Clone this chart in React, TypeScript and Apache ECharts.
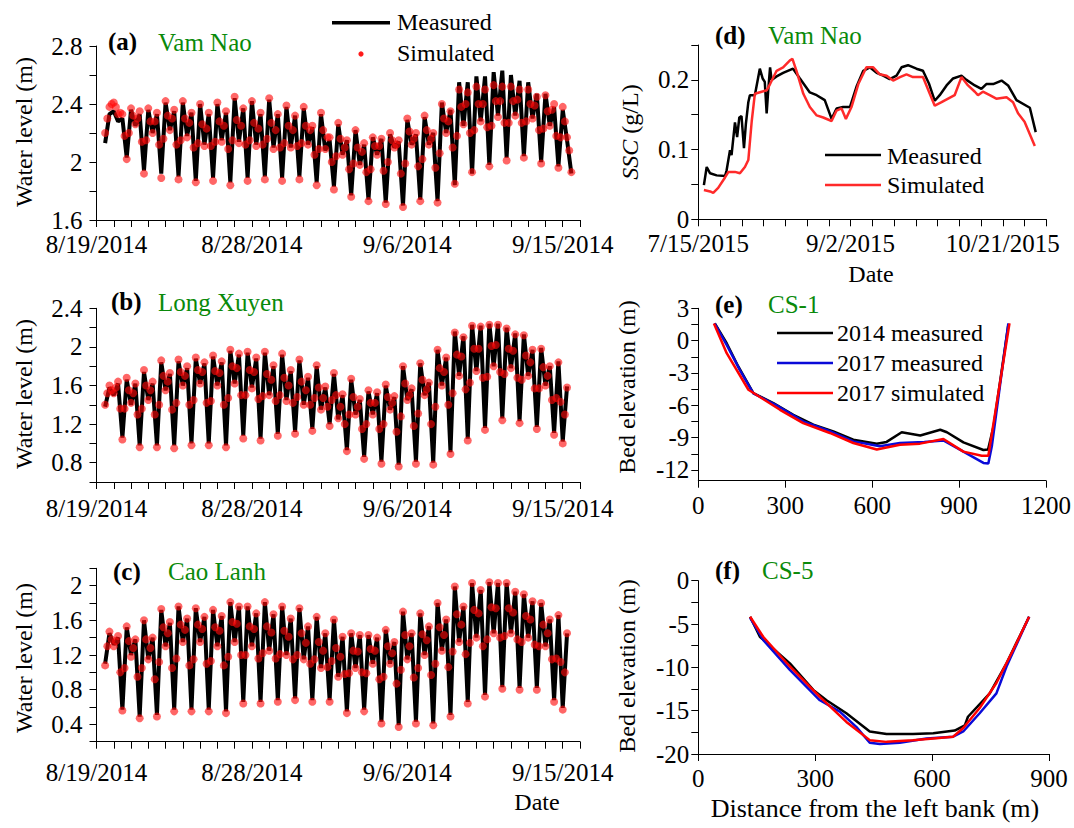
import React, { useEffect, useRef } from 'react';
import * as echarts from 'echarts';

const FONT = '"Liberation Serif", "Times New Roman", Times, serif';
const GREEN = '#0a8a0a';

// ---------- Panels (a)-(c): water level; x = days after 8/19/2014 00:00 ----------
const waterDateLabels: Record<number, string> = { 0: '8/19/2014', 9: '8/28/2014', 18: '9/6/2014', 27: '9/15/2014' };
const measuredStartDay = 0.5;
const measuredStepDays = 0.25; // 6-hourly readings (tidal turning points)
const simulatedStartDay = 0.5;
const simulatedStepDays = 0.125; // 3-hourly model output

// (a) Vam Nao
const vamNaoMeasured = [
  2.13, 2.33, 2.35, 2.28,
  2.30, 2.03, 2.36, 2.25,
  2.33, 1.94, 2.36, 2.20,
  2.33, 1.92, 2.41, 2.22,
  2.35, 1.90, 2.41, 2.18,
  2.34, 1.87, 2.40, 2.12,
  2.33, 1.89, 2.40, 2.15,
  2.34, 1.86, 2.44, 2.14,
  2.37, 1.89, 2.42, 2.12,
  2.33, 1.90, 2.43, 2.10,
  2.33, 1.89, 2.38, 2.10,
  2.32, 1.90, 2.37, 2.12,
  2.24, 1.86, 2.33, 2.08,
  2.15, 1.83, 2.26, 2.05,
  2.15, 1.77, 2.22, 1.98,
  2.12, 1.74, 2.17, 2.05,
  2.16, 1.72, 2.19, 2.10,
  2.14, 1.70, 2.29, 2.12,
  2.19, 1.74, 2.31, 2.12,
  2.20, 1.73, 2.41, 2.20,
  2.36, 1.84, 2.55, 2.25,
  2.55, 1.92, 2.59, 2.28,
  2.59, 1.98, 2.62, 2.32,
  2.63, 2.03, 2.60, 2.32,
  2.56, 2.04, 2.55, 2.30,
  2.47, 2.00, 2.47, 2.25,
  2.38, 1.97, 2.36, 2.15,
  1.92,
];
const vamNaoSimulated = [
  2.20, 2.30, 2.38, 2.40, 2.41, 2.38, 2.33, 2.34,
  2.33, 2.18, 2.02, 2.20, 2.37, 2.32, 2.26, 2.30,
  2.35, 2.14, 1.92, 2.15, 2.37, 2.28, 2.20, 2.28,
  2.34, 2.12, 1.89, 2.16, 2.42, 2.32, 2.22, 2.30,
  2.36, 2.12, 1.88, 2.15, 2.42, 2.30, 2.17, 2.27,
  2.34, 2.10, 1.86, 2.13, 2.40, 2.26, 2.11, 2.23,
  2.34, 2.11, 1.87, 2.14, 2.41, 2.28, 2.14, 2.25,
  2.35, 2.09, 1.84, 2.15, 2.45, 2.29, 2.13, 2.25,
  2.37, 2.12, 1.87, 2.15, 2.42, 2.27, 2.11, 2.23,
  2.34, 2.12, 1.88, 2.16, 2.44, 2.27, 2.09, 2.22,
  2.33, 2.10, 1.87, 2.13, 2.39, 2.25, 2.10, 2.22,
  2.32, 2.11, 1.88, 2.13, 2.38, 2.25, 2.12, 2.22,
  2.25, 2.05, 1.84, 2.09, 2.34, 2.22, 2.09, 2.17,
  2.17, 2.00, 1.81, 2.04, 2.27, 2.16, 2.05, 2.10,
  2.15, 1.95, 1.76, 1.99, 2.22, 2.10, 1.98, 2.07,
  2.13, 1.93, 1.73, 1.95, 2.17, 2.11, 2.05, 2.11,
  2.16, 1.94, 1.71, 2.00, 2.20, 2.15, 2.10, 2.12,
  2.15, 1.92, 1.69, 1.99, 2.30, 2.21, 2.12, 2.16,
  2.20, 1.97, 1.73, 2.02, 2.32, 2.22, 2.12, 2.16,
  2.20, 1.96, 1.72, 2.06, 2.40, 2.30, 2.20, 2.28,
  2.35, 2.10, 1.85, 2.18, 2.50, 2.38, 2.26, 2.40,
  2.48, 2.20, 1.93, 2.22, 2.52, 2.40, 2.28, 2.40,
  2.50, 2.24, 1.97, 2.25, 2.53, 2.42, 2.31, 2.42,
  2.52, 2.27, 2.01, 2.27, 2.52, 2.42, 2.32, 2.43,
  2.50, 2.27, 2.03, 2.28, 2.50, 2.40, 2.30, 2.39,
  2.45, 2.22, 1.99, 2.23, 2.46, 2.35, 2.25, 2.36,
  2.40, 2.18, 1.96, 2.17, 2.38, 2.28, 2.17, 2.08,
  1.93,
];

// (b) Long Xuyen
const longXuyenMeasured = [
  1.38, 1.58, 1.50, 1.62,
  1.06, 1.66, 1.40, 1.62,
  0.98, 1.74, 1.45, 1.62,
  0.98, 1.84, 1.55, 1.72,
  0.98, 1.85, 1.60, 1.78,
  1.00, 1.88, 1.62, 1.83,
  1.00, 1.90, 1.60, 1.84,
  0.98, 1.96, 1.62, 1.92,
  1.08, 1.94, 1.58, 1.88,
  1.05, 1.94, 1.50, 1.80,
  1.10, 1.92, 1.45, 1.75,
  1.12, 1.86, 1.40, 1.68,
  1.15, 1.80, 1.35, 1.58,
  1.20, 1.72, 1.25, 1.50,
  0.93, 1.66, 1.30, 1.45,
  0.86, 1.54, 1.30, 1.52,
  0.81, 1.60, 1.35, 1.48,
  0.78, 1.80, 1.45, 1.56,
  0.81, 1.83, 1.50, 1.63,
  0.80, 1.97, 1.60, 1.89,
  0.91, 2.16, 1.70, 2.11,
  1.05, 2.23, 1.75, 2.22,
  1.16, 2.24, 1.80, 2.24,
  1.26, 2.20, 1.78, 2.14,
  1.23, 2.13, 1.70, 1.97,
  1.17, 1.99, 1.60, 1.80,
  1.11, 1.85, 1.02, 1.59,
];
const longXuyenSimulated = [
  1.40, 1.52, 1.60, 1.55, 1.52, 1.58, 1.64, 1.36,
  1.04, 1.36, 1.68, 1.55, 1.42, 1.52, 1.62, 1.30,
  0.96, 1.36, 1.76, 1.60, 1.45, 1.55, 1.64, 1.30,
  0.96, 1.40, 1.86, 1.70, 1.55, 1.64, 1.73, 1.35,
  0.95, 1.42, 1.87, 1.74, 1.60, 1.70, 1.80, 1.40,
  0.98, 1.45, 1.89, 1.76, 1.62, 1.74, 1.84, 1.42,
  0.98, 1.44, 1.91, 1.75, 1.60, 1.73, 1.85, 1.40,
  0.96, 1.47, 1.97, 1.80, 1.62, 1.78, 1.93, 1.50,
  1.05, 1.50, 1.95, 1.76, 1.57, 1.74, 1.89, 1.46,
  1.03, 1.49, 1.95, 1.72, 1.50, 1.66, 1.81, 1.44,
  1.08, 1.50, 1.93, 1.68, 1.44, 1.60, 1.76, 1.42,
  1.10, 1.48, 1.87, 1.64, 1.40, 1.55, 1.69, 1.40,
  1.13, 1.47, 1.81, 1.58, 1.35, 1.47, 1.59, 1.38,
  1.18, 1.45, 1.73, 1.50, 1.26, 1.38, 1.51, 1.20,
  0.92, 1.30, 1.67, 1.48, 1.30, 1.38, 1.46, 1.15,
  0.84, 1.20, 1.55, 1.42, 1.30, 1.42, 1.53, 1.15,
  0.79, 1.20, 1.61, 1.48, 1.35, 1.42, 1.49, 1.12,
  0.76, 1.28, 1.80, 1.62, 1.45, 1.50, 1.57, 1.18,
  0.79, 1.31, 1.83, 1.66, 1.50, 1.56, 1.63, 1.20,
  0.78, 1.38, 1.97, 1.78, 1.60, 1.74, 1.89, 1.40,
  0.89, 1.52, 2.15, 1.92, 1.70, 1.90, 2.10, 1.56,
  1.03, 1.63, 2.22, 1.98, 1.75, 1.98, 2.21, 1.68,
  1.14, 1.69, 2.23, 2.01, 1.80, 2.02, 2.23, 1.74,
  1.24, 1.72, 2.19, 1.98, 1.78, 1.96, 2.13, 1.68,
  1.21, 1.66, 2.12, 1.91, 1.70, 1.84, 1.97, 1.57,
  1.15, 1.57, 1.98, 1.79, 1.60, 1.70, 1.80, 1.45,
  1.09, 1.47, 1.84, 1.43, 1.00, 1.30, 1.58,
];

// (c) Cao Lanh
const caoLanhMeasured = [
  1.10, 1.45, 1.32, 1.40,
  0.57, 1.52, 1.20, 1.38,
  0.49, 1.60, 1.15, 1.40,
  0.51, 1.72, 1.30, 1.57,
  0.57, 1.76, 1.35, 1.62,
  0.57, 1.74, 1.35, 1.64,
  0.57, 1.72, 1.30, 1.65,
  0.55, 1.81, 1.35, 1.76,
  0.66, 1.76, 1.30, 1.68,
  0.66, 1.81, 1.25, 1.67,
  0.68, 1.76, 1.20, 1.62,
  0.70, 1.74, 1.15, 1.53,
  0.68, 1.64, 1.05, 1.45,
  0.68, 1.61, 0.95, 1.41,
  0.55, 1.45, 1.05, 1.43,
  0.57, 1.43, 1.10, 1.40,
  0.43, 1.49, 1.10, 1.35,
  0.39, 1.70, 1.15, 1.45,
  0.43, 1.68, 1.20, 1.53,
  0.41, 1.80, 1.25, 1.61,
  0.51, 1.99, 1.35, 1.76,
  0.66, 2.03, 1.40, 1.95,
  0.74, 2.04, 1.45, 2.03,
  0.83, 2.03, 1.45, 1.93,
  0.82, 1.90, 1.40, 1.82,
  0.82, 1.80, 1.30, 1.61,
  0.68, 1.66, 0.59, 1.45,
];
const caoLanhSimulated = [
  1.08, 1.30, 1.47, 1.38, 1.30, 1.36, 1.42, 1.00,
  0.56, 1.05, 1.53, 1.36, 1.18, 1.28, 1.38, 0.95,
  0.47, 1.05, 1.60, 1.38, 1.15, 1.28, 1.40, 0.92,
  0.49, 1.12, 1.73, 1.52, 1.30, 1.45, 1.58, 1.05,
  0.55, 1.16, 1.76, 1.55, 1.35, 1.49, 1.62, 1.08,
  0.55, 1.15, 1.74, 1.55, 1.35, 1.50, 1.64, 1.10,
  0.55, 1.13, 1.72, 1.52, 1.30, 1.48, 1.65, 1.08,
  0.53, 1.18, 1.81, 1.58, 1.35, 1.56, 1.76, 1.20,
  0.64, 1.20, 1.76, 1.53, 1.30, 1.50, 1.68, 1.16,
  0.64, 1.22, 1.81, 1.53, 1.25, 1.46, 1.67, 1.16,
  0.66, 1.21, 1.76, 1.48, 1.20, 1.41, 1.62, 1.15,
  0.68, 1.20, 1.74, 1.45, 1.15, 1.34, 1.53, 1.10,
  0.66, 1.15, 1.64, 1.35, 1.05, 1.25, 1.45, 1.06,
  0.66, 1.13, 1.61, 1.28, 0.95, 1.18, 1.41, 0.98,
  0.53, 0.99, 1.45, 1.25, 1.05, 1.24, 1.43, 1.00,
  0.55, 0.99, 1.43, 1.27, 1.10, 1.25, 1.40, 0.92,
  0.41, 0.95, 1.49, 1.30, 1.10, 1.22, 1.35, 0.87,
  0.37, 1.03, 1.70, 1.43, 1.15, 1.30, 1.45, 0.94,
  0.41, 1.05, 1.68, 1.44, 1.20, 1.37, 1.53, 0.97,
  0.39, 1.10, 1.80, 1.52, 1.25, 1.43, 1.61, 1.06,
  0.49, 1.24, 1.99, 1.67, 1.35, 1.55, 1.76, 1.21,
  0.64, 1.34, 2.03, 1.72, 1.40, 1.68, 1.95, 1.30,
  0.72, 1.38, 2.04, 1.75, 1.45, 1.74, 2.03, 1.40,
  0.81, 1.42, 2.03, 1.74, 1.45, 1.69, 1.93, 1.38,
  0.80, 1.35, 1.90, 1.65, 1.40, 1.61, 1.82, 1.32,
  0.80, 1.30, 1.80, 1.55, 1.30, 1.45, 1.61, 1.15,
  0.66, 1.16, 1.66, 1.12, 0.57, 1.00, 1.45,
];

// ---------- Panel (d): SSC at Vam Nao; x = days after 7/15/2015 ----------
const sscDateLabels: Record<number, string> = { 0: '7/15/2015', 49: '9/2/2015', 98: '10/21/2015' };
const sscMeasuredDays = [1.8, 2.7, 3.8, 5.9, 8.6, 9.1, 10.2, 10.7, 11.8, 12.5, 13.2, 13.9, 14.7, 15.3, 16.1, 16.6, 18.2, 19.8, 20.7, 21.4, 22.0, 22.5, 23.1, 23.6, 25.2, 27.3, 30.5, 32.7, 35.9, 38.1, 40.7, 42.9, 44.5, 46.6, 48.8, 50.9, 53.1, 55.2, 57.4, 59.5, 61.6, 63.8, 65.4, 67.5, 70.2, 72.3, 74.3, 76.1, 77.7, 79.9, 82.0, 84.7, 86.3, 89.0, 91.1, 92.7, 94.9, 97.6, 99.7, 102.4, 106.7, 108.6];
const sscMeasured = [0.049, 0.075, 0.066, 0.063, 0.062, 0.07, 0.099, 0.092, 0.139, 0.118, 0.146, 0.148, 0.102, 0.136, 0.168, 0.178, 0.178, 0.216, 0.202, 0.197, 0.152, 0.185, 0.218, 0.2, 0.205, 0.21, 0.216, 0.202, 0.182, 0.178, 0.171, 0.144, 0.159, 0.161, 0.161, 0.19, 0.213, 0.218, 0.21, 0.206, 0.201, 0.206, 0.218, 0.221, 0.216, 0.213, 0.194, 0.17, 0.178, 0.192, 0.202, 0.206, 0.2, 0.192, 0.187, 0.194, 0.194, 0.199, 0.192, 0.171, 0.16, 0.125];
const sscSimulatedDays = [1.8, 3.8, 4.8, 6.4, 8.6, 9.7, 11.8, 13.4, 15.0, 16.1, 17.2, 18.2, 20.4, 22.0, 23.1, 25.2, 27.3, 29.5, 30.3, 31.6, 33.8, 35.9, 38.1, 40.2, 42.9, 44.5, 46.1, 47.5, 49.3, 51.5, 54.1, 56.3, 58.4, 60.6, 62.7, 64.9, 67.0, 69.1, 72.3, 74.5, 76.1, 78.3, 80.4, 82.5, 84.7, 86.8, 89.0, 90.0, 91.6, 93.8, 95.9, 99.2, 101.3, 102.9, 105.0, 108.3];
const sscSimulated = [0.042, 0.04, 0.038, 0.045, 0.06, 0.068, 0.068, 0.066, 0.075, 0.085, 0.141, 0.18, 0.183, 0.185, 0.194, 0.213, 0.218, 0.228, 0.23, 0.213, 0.18, 0.161, 0.149, 0.146, 0.141, 0.156, 0.159, 0.144, 0.161, 0.194, 0.218, 0.218, 0.208, 0.206, 0.199, 0.204, 0.208, 0.204, 0.204, 0.18, 0.163, 0.168, 0.173, 0.178, 0.204, 0.192, 0.183, 0.178, 0.183, 0.178, 0.173, 0.175, 0.168, 0.152, 0.14, 0.105];

// ---------- Panel (e): CS-1 bed elevation ----------
const cs1Measured2014Dist = [57, 98, 138, 190, 259, 328, 397, 466, 535, 616, 650, 702, 766, 835, 858, 915, 984, 1000, 1019, 1070];
const cs1Measured2014 = [1.6, -0.24, -2.4, -4.87, -5.8, -6.88, -7.8, -8.43, -9.2, -9.57, -9.4, -8.5, -8.8, -8.27, -8.5, -9.44, -10.15, -10.1, -7.96, 1.45];
const cs1Measured2017Dist = [56, 98, 145, 190, 270, 362, 454, 535, 627, 696, 780, 846, 915, 984, 1001, 1013, 1070];
const cs1Measured2017 = [1.6, -0.4, -2.8, -4.9, -6.0, -7.5, -8.4, -9.35, -9.8, -9.5, -9.4, -9.26, -10.3, -11.35, -11.4, -9.8, 1.6];
const cs1Simulated2017Dist = [54, 98, 173, 282, 362, 454, 535, 616, 696, 765, 846, 915, 978, 1001, 1030, 1074];
const cs1Simulated2017 = [1.6, -1.17, -4.56, -6.42, -7.65, -8.57, -9.5, -10.1, -9.66, -9.56, -9.13, -10.3, -10.68, -10.68, -5.8, 1.6];

// ---------- Panel (f): CS-5 bed elevation ----------
const cs5Measured2014Dist = [133, 158, 235, 295, 329, 380, 440, 483, 551, 603, 658, 684, 692, 748, 791, 849];
const cs5Measured2014 = [-4.16, -6.47, -9.54, -12.6, -13.8, -15.3, -17.4, -17.7, -17.7, -17.6, -17.3, -16.7, -15.7, -13.0, -9.54, -4.16];
const cs5Measured2017Dist = [133, 167, 235, 312, 363, 406, 440, 466, 517, 586, 654, 680, 722, 765, 791, 849];
const cs5Measured2017 = [-4.3, -6.85, -10.3, -13.8, -15.1, -16.9, -18.7, -18.85, -18.7, -18.2, -18.0, -17.4, -15.3, -13.0, -9.9, -4.16];
const cs5Simulated2017Dist = [133, 167, 235, 312, 380, 440, 483, 551, 603, 654, 680, 722, 765, 808, 849];
const cs5Simulated2017 = [-4.16, -6.5, -9.9, -13.4, -16.3, -18.4, -18.6, -18.4, -18.2, -18.0, -17.0, -14.7, -11.8, -8.0, -4.16];

// ---------- helpers ----------
const timed = (vals: number[], start: number, step: number) => vals.map((v, i) => [start + i * step, v]);
const paired = (xs: number[], ys: number[]) => xs.map((x, i) => [x, ys[i]]);

const axisLineStyle = { color: '#000', width: 1 };
const baseAxis = (gridIndex: number) => ({
  type: 'value' as const,
  gridIndex,
  axisLine: { show: true, onZero: false, lineStyle: axisLineStyle },
  axisTick: { show: true, length: 7, lineStyle: axisLineStyle },
  splitLine: { show: false },
});
const plain = (v: number) => String(v);
const labelStyle = (margin: number, formatter: any = plain) => ({
  color: '#000', fontFamily: FONT, fontSize: 25, margin, formatter,
});

const leftX = (gridIndex: number, margin: number) => ({
  ...baseAxis(gridIndex), min: 0, max: 28, interval: 1,
  axisLabel: labelStyle(margin, (v: number) => waterDateLabels[Math.round(v)] ?? ''),
});
const leftY = (gridIndex: number, min: number, max: number) => ({
  ...baseAxis(gridIndex), min, max, interval: 0.2,
  axisLabel: labelStyle(14, (v: number) => (Math.round(v * 10) % 4 === 0 ? String(+v.toFixed(1)) : '')),
});

const text = (t: string, x: number, y: number, opts: any = {}) => ({
  type: 'text', x, y, rotation: opts.rotation ?? 0, silent: true,
  style: {
    text: t, fill: opts.fill ?? '#000',
    font: `${opts.weight ?? 'normal'} ${opts.size ?? 24}px ${FONT}`,
    textAlign: opts.align ?? 'left', textVerticalAlign: 'middle',
    rich: opts.rich,
  },
});
const seg = (x1: number, x2: number, y: number, color: string, width: number) => ({
  type: 'line', silent: true, shape: { x1, y1: y, x2, y2: y }, style: { stroke: color, lineWidth: width },
});

export default function App() {
  const ref = useRef<HTMLDivElement>(null);

  useEffect(() => {
    if (!ref.current) return;
    const chart = echarts.init(ref.current, undefined, { renderer: 'svg' });

    const measuredLine = (data: any[], xi: number) => ({
      type: 'line', xAxisIndex: xi, yAxisIndex: xi, data, showSymbol: false, symbol: 'none',
      lineStyle: { color: '#000', width: 4 }, z: 2, silent: true,
    });
    const simulatedDots = (data: any[], xi: number) => ({
      type: 'scatter', xAxisIndex: xi, yAxisIndex: xi, data, symbolSize: 8,
      itemStyle: { color: 'rgba(255,10,10,0.78)' }, z: 3, silent: true,
    });
    const profileLine = (data: any[], xi: number, color: string, width = 2.5) => ({
      type: 'line', xAxisIndex: xi, yAxisIndex: xi, data, showSymbol: false, symbol: 'none',
      lineStyle: { color, width }, silent: true,
    });

    const option: any = {
      animation: false,
      backgroundColor: '#fff',
      grid: [
        { left: 96.5, top: 46, width: 483.5, height: 174 },
        { left: 96.5, top: 308.3, width: 483.5, height: 173.7 },
        { left: 96.5, top: 568.3, width: 483.5, height: 173.4 },
        { left: 698.3, top: 45, width: 348, height: 174.3 },
        { left: 698.3, top: 308.3, width: 347.7, height: 172.4 },
        { left: 698.3, top: 580.7, width: 350.7, height: 173.3 },
      ],
      xAxis: [
        leftX(0, 12),
        leftX(1, 14),
        leftX(2, 18),
        {
          ...baseAxis(3), min: 0, max: 112, interval: 7,
          axisLabel: labelStyle(12, (v: number) => sscDateLabels[Math.round(v)] ?? ''),
        },
        { ...baseAxis(4), min: 0, max: 1200, interval: 300, axisLabel: labelStyle(12) },
        { ...baseAxis(5), min: 0, max: 900, interval: 300, axisLabel: labelStyle(12) },
      ],
      yAxis: [
        leftY(0, 1.6, 2.8),
        leftY(1, 0.6, 2.4),
        leftY(2, 0.2, 2.2),
        {
          ...baseAxis(3), min: 0, max: 0.25, interval: 0.05,
          axisLabel: labelStyle(9, (v: number) => (Math.round(v * 100) % 10 === 0 ? String(+v.toFixed(1)) : '')),
        },
        {
          ...baseAxis(4), min: -13, max: 3,
          axisTick: { show: true, length: 7, lineStyle: axisLineStyle, customValues: [-12, -10.5, -9, -7.5, -6, -4.5, -3, -1.5, 0, 1.5, 3] },
          axisLabel: { ...labelStyle(9), customValues: [-12, -9, -6, -3, 0, 3] },
        },
        {
          ...baseAxis(5), min: -20, max: 0, interval: 2.5,
          axisLabel: labelStyle(9, (v: number) => (Math.round(v * 10) % 50 === 0 ? String(v) : '')),
        },
      ],
      series: [
        measuredLine(timed(vamNaoMeasured, measuredStartDay, measuredStepDays), 0),
        simulatedDots(timed(vamNaoSimulated, simulatedStartDay, simulatedStepDays), 0),
        measuredLine(timed(longXuyenMeasured, measuredStartDay, measuredStepDays), 1),
        simulatedDots(timed(longXuyenSimulated, simulatedStartDay, simulatedStepDays), 1),
        measuredLine(timed(caoLanhMeasured, measuredStartDay, measuredStepDays), 2),
        simulatedDots(timed(caoLanhSimulated, simulatedStartDay, simulatedStepDays), 2),
        profileLine(paired(sscMeasuredDays, sscMeasured), 3, '#000'),
        profileLine(paired(sscSimulatedDays, sscSimulated), 3, '#ff2a2a'),
        profileLine(paired(cs1Measured2014Dist, cs1Measured2014), 4, '#000'),
        profileLine(paired(cs1Measured2017Dist, cs1Measured2017), 4, '#0a0ad8'),
        profileLine(paired(cs1Simulated2017Dist, cs1Simulated2017), 4, '#ff0000'),
        profileLine(paired(cs5Measured2014Dist, cs5Measured2014), 5, '#000'),
        profileLine(paired(cs5Measured2017Dist, cs5Measured2017), 5, '#0a0ad8'),
        profileLine(paired(cs5Simulated2017Dist, cs5Simulated2017), 5, '#ff0000'),
      ],
      graphic: [
        // panel tags and station names
        text('(a)', 108, 41, { weight: 'bold', size: 25 }),
        text('Vam Nao', 158, 42, { fill: GREEN, size: 25 }),
        text('(b)', 111, 301, { weight: 'bold', size: 25 }),
        text('Long Xuyen', 158, 302, { fill: GREEN, size: 25 }),
        text('(c)', 113, 571, { weight: 'bold', size: 25 }),
        text('Cao Lanh', 168, 571, { fill: GREEN, size: 25 }),
        text('(d)', 715, 35, { weight: 'bold', size: 25 }),
        text('Vam Nao', 768, 35, { fill: GREEN, size: 25 }),
        text('(e)', 715, 304, { weight: 'bold', size: 25 }),
        text('CS-1', 768, 304, { fill: GREEN, size: 25 }),
        text('(f)', 715, 570, { weight: 'bold', size: 25 }),
        text('CS-5', 762, 570, { fill: GREEN, size: 25 }),
        // legend (a)
        seg(332, 390, 22.7, '#000', 3.5),
        text('Measured', 397, 22, { size: 24 }),
        { type: 'circle', silent: true, shape: { cx: 361, cy: 54, r: 2.6 }, style: { fill: '#ff1a1a' } },
        text('Simulated', 397, 53, { size: 24 }),
        // legend (d)
        seg(825, 881, 155, '#000', 2.5),
        text('Measured', 887, 156, { size: 24 }),
        seg(825, 881, 185, '#ff2a2a', 2.5),
        text('Simulated', 887, 185, { size: 24 }),
        // legend (e)
        seg(777, 833, 333, '#000', 2.5),
        text('2014 measured', 837, 333, { size: 24 }),
        seg(777, 833, 363, '#0a0ad8', 2.5),
        text('2017 measured', 837, 363, { size: 24 }),
        seg(777, 833, 393, '#ff0000', 2.5),
        text('2017 simulated', 837, 393, { size: 24 }),
        // axis titles
        text('Water level (m)', 24, 132, { rotation: Math.PI / 2, align: 'center', size: 24 }),
        text('Water level (m)', 24, 394, { rotation: Math.PI / 2, align: 'center', size: 24 }),
        text('Water level (m)', 24, 658, { rotation: Math.PI / 2, align: 'center', size: 24 }),
        text('{i|SSC} (g/L)', 630, 132, {
          rotation: Math.PI / 2, align: 'center', size: 24,
          rich: { i: { fontStyle: 'italic', fontFamily: FONT, fontSize: 24, fill: '#000', color: '#000' } },
        }),
        text('Bed elevation (m)', 627, 387, { rotation: Math.PI / 2, align: 'center', size: 24 }),
        text('Bed elevation (m)', 627, 666, { rotation: Math.PI / 2, align: 'center', size: 24 }),
        text('Date', 871, 274, { align: 'center', size: 24 }),
        text('Date', 537, 802, { align: 'center', size: 24 }),
        text('Distance from the left bank (m)', 875, 808, { align: 'center', size: 26 }),
      ],
    };

    chart.setOption(option);
    return () => chart.dispose();
  }, []);

  return (
    <div
      ref={ref}
      style={{ position: 'fixed', left: 0, top: 0, width: '1074px', height: '828px', background: '#fff' }}
    />
  );
}
